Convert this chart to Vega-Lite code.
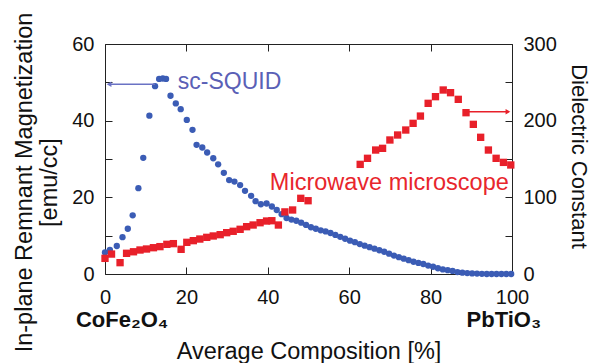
{
  "$schema": "https://vega.github.io/schema/vega-lite/v6.json",
  "width": 407,
  "height": 230,
  "autosize": {"type": "none"},
  "padding": {"left": 105, "top": 44, "right": 78, "bottom": 89},
  "background": "white",
  "config": {
    "font": "Liberation Sans",
    "view": {"stroke": "#222222", "strokeWidth": 1},
    "axis": {
      "domain": false,
      "grid": false,
      "tickSize": 7,
      "offset": -7,
      "labelFlush": false,
      "labelOverlap": false,
      "tickColor": "#222222",
      "tickWidth": 1,
      "labelFont": "Liberation Sans",
      "labelFontSize": 20,
      "labelColor": "#111111",
      "titleFont": "Liberation Sans",
      "titleFontSize": 23,
      "titleFontWeight": "normal",
      "titleColor": "#111111"
    }
  },
  "datasets": {
    "squid": [
      {"comp": 0.0, "mag": 5.6}, {"comp": 1.2, "mag": 6.3}, {"comp": 2.9, "mag": 7.3}, {"comp": 4.3, "mag": 9.6},
      {"comp": 5.6, "mag": 11.8}, {"comp": 6.8, "mag": 15.3}, {"comp": 8.2, "mag": 22.4}, {"comp": 9.4, "mag": 30.3},
      {"comp": 10.9, "mag": 41.3}, {"comp": 12.3, "mag": 49.0}, {"comp": 13.3, "mag": 50.9}, {"comp": 14.2, "mag": 51.0},
      {"comp": 15.0, "mag": 50.9}, {"comp": 16.1, "mag": 46.5}, {"comp": 17.4, "mag": 44.5}, {"comp": 18.6, "mag": 43.0},
      {"comp": 20.1, "mag": 40.2}, {"comp": 21.5, "mag": 37.6}, {"comp": 22.5, "mag": 33.7}, {"comp": 23.9, "mag": 33.0},
      {"comp": 25.1, "mag": 31.7}, {"comp": 26.6, "mag": 30.2}, {"comp": 27.8, "mag": 28.6}, {"comp": 29.2, "mag": 26.4},
      {"comp": 30.5, "mag": 24.5}, {"comp": 31.8, "mag": 24.1}, {"comp": 33.2, "mag": 23.2}, {"comp": 34.4, "mag": 21.7},
      {"comp": 35.9, "mag": 20.4}, {"comp": 37.0, "mag": 19.0}, {"comp": 38.3, "mag": 18.2}, {"comp": 39.7, "mag": 18.4},
      {"comp": 41.0, "mag": 17.6}, {"comp": 42.2, "mag": 16.7}, {"comp": 43.4, "mag": 15.6}, {"comp": 44.6, "mag": 14.6},
      {"comp": 45.8, "mag": 14.2}, {"comp": 47.0, "mag": 13.9}, {"comp": 48.2, "mag": 13.4}, {"comp": 49.4, "mag": 12.8},
      {"comp": 50.6, "mag": 12.2}, {"comp": 51.8, "mag": 11.8}, {"comp": 53.0, "mag": 11.4}, {"comp": 54.2, "mag": 11.1},
      {"comp": 55.4, "mag": 10.7}, {"comp": 56.6, "mag": 10.2}, {"comp": 57.8, "mag": 9.7}, {"comp": 59.0, "mag": 9.2},
      {"comp": 60.2, "mag": 8.7}, {"comp": 61.4, "mag": 8.3}, {"comp": 62.6, "mag": 7.8}, {"comp": 63.8, "mag": 7.4},
      {"comp": 65.0, "mag": 7.0}, {"comp": 66.2, "mag": 6.6}, {"comp": 67.4, "mag": 6.2}, {"comp": 68.6, "mag": 5.8},
      {"comp": 69.8, "mag": 5.3}, {"comp": 71.0, "mag": 4.8}, {"comp": 72.2, "mag": 4.4}, {"comp": 73.4, "mag": 4.0},
      {"comp": 74.6, "mag": 3.6}, {"comp": 75.8, "mag": 3.2}, {"comp": 77.0, "mag": 2.9}, {"comp": 78.2, "mag": 2.6},
      {"comp": 79.4, "mag": 2.2}, {"comp": 80.6, "mag": 1.9}, {"comp": 81.8, "mag": 1.5}, {"comp": 83.0, "mag": 1.2},
      {"comp": 84.2, "mag": 1.0}, {"comp": 85.4, "mag": 0.8}, {"comp": 86.6, "mag": 0.5}, {"comp": 87.8, "mag": 0.35},
      {"comp": 89.0, "mag": 0.25}, {"comp": 90.2, "mag": 0.15}, {"comp": 91.4, "mag": 0.1}, {"comp": 92.6, "mag": 0.05},
      {"comp": 93.8, "mag": 0.0}, {"comp": 95.0, "mag": 0.0}, {"comp": 96.2, "mag": 0.0}, {"comp": 97.4, "mag": 0.0},
      {"comp": 98.6, "mag": 0.0}, {"comp": 99.8, "mag": 0.0}
    ],
    "micro": [
      {"comp": 0.0, "eps": 20.4}, {"comp": 1.6, "eps": 26.0}, {"comp": 3.7, "eps": 14.8}, {"comp": 5.3, "eps": 27.0},
      {"comp": 7.0, "eps": 29.0}, {"comp": 8.6, "eps": 31.3}, {"comp": 10.2, "eps": 32.6}, {"comp": 11.9, "eps": 34.3},
      {"comp": 13.5, "eps": 35.7}, {"comp": 15.2, "eps": 38.7}, {"comp": 16.8, "eps": 39.6}, {"comp": 18.7, "eps": 32.2},
      {"comp": 20.1, "eps": 41.3}, {"comp": 21.7, "eps": 43.5}, {"comp": 23.3, "eps": 45.6}, {"comp": 25.0, "eps": 47.8},
      {"comp": 26.6, "eps": 49.6}, {"comp": 28.3, "eps": 51.3}, {"comp": 29.9, "eps": 53.9}, {"comp": 31.5, "eps": 55.7},
      {"comp": 33.2, "eps": 58.3}, {"comp": 34.8, "eps": 61.7}, {"comp": 36.4, "eps": 63.9}, {"comp": 38.1, "eps": 66.9},
      {"comp": 39.7, "eps": 69.1}, {"comp": 41.0, "eps": 69.5}, {"comp": 42.6, "eps": 63.9}, {"comp": 44.2, "eps": 81.0},
      {"comp": 46.1, "eps": 83.5}, {"comp": 48.1, "eps": 98.7}, {"comp": 49.9, "eps": 95.6},
      {"comp": 62.7, "eps": 143.0}, {"comp": 64.5, "eps": 150.9}, {"comp": 66.5, "eps": 161.7}, {"comp": 68.2, "eps": 163.9},
      {"comp": 70.0, "eps": 174.8}, {"comp": 71.9, "eps": 181.3}, {"comp": 73.9, "eps": 187.8}, {"comp": 75.7, "eps": 196.5},
      {"comp": 77.5, "eps": 206.0}, {"comp": 79.4, "eps": 222.6}, {"comp": 81.2, "eps": 231.3}, {"comp": 83.1, "eps": 240.0},
      {"comp": 84.9, "eps": 236.5}, {"comp": 86.8, "eps": 227.8}, {"comp": 88.7, "eps": 210.4}, {"comp": 90.5, "eps": 195.2},
      {"comp": 92.3, "eps": 178.3}, {"comp": 94.2, "eps": 161.7}, {"comp": 96.1, "eps": 150.9}, {"comp": 97.9, "eps": 145.6},
      {"comp": 99.7, "eps": 142.2}
    ],
    "magNotes": [
      {"comp": 17.9, "mag": 50.0, "label": "sc-SQUID"}
    ],
    "magArrow": [
      {"comp": 1.0, "comp2": 12.3, "mag": 49.5}
    ],
    "compounds": [
      {"comp": 4.2, "mag": -12.0, "label": "CoFe₂O₄"},
      {"comp": 98.0, "mag": -12.0, "label": "PbTiO₃"}
    ],
    "epsNotes": [
      {"comp": 40.5, "eps": 118.7, "label": "Microwave microscope"}
    ],
    "epsArrow": [
      {"comp": 88.9, "comp2": 99.0, "eps": 211.6}
    ]
  },
  "layer": [
    {
      "data": {"name": "squid"},
      "mark": {"type": "circle", "size": 40, "opacity": 1, "color": "#3b5cb5"},
      "encoding": {
        "x": {
          "field": "comp", "type": "quantitative",
          "scale": {"domain": [0, 100], "nice": false},
          "axis": {
            "orient": "bottom", "values": [0, 20, 40, 60, 80, 100],
            "labelPadding": 13, "title": "Average Composition [%]",
            "titleFontSize": 23.5,
            "titleX": 203.5, "titleY": 91, "titleAlign": "center", "titleBaseline": "alphabetic"
          }
        },
        "y": {
          "field": "mag", "type": "quantitative",
          "scale": {"domain": [0, 60], "nice": false},
          "axis": {
            "orient": "left", "values": [0, 10, 20, 30, 40, 50, 60],
            "labelExpr": "datum.value % 20 == 0 ? datum.label : ''",
            "labelPadding": 11,
            "title": ["In-plane Remnant Magnetization", "[emu/cc]"],
            "titleFontSize": 23.5,
            "titleAngle": 270, "titleX": -88, "titleY": 138,
            "titleBaseline": "middle", "titleAlign": "center", "titleLineHeight": 25
          }
        }
      }
    },
    {
      "data": {"name": "micro"},
      "mark": {"type": "square", "size": 54, "opacity": 1, "color": "#e8202a"},
      "encoding": {
        "x": {
          "field": "comp", "type": "quantitative",
          "scale": {"domain": [0, 100], "nice": false},
          "axis": {"orient": "top", "values": [0, 20, 40, 60, 80, 100], "labels": false, "title": null}
        },
        "y": {
          "field": "eps", "type": "quantitative",
          "scale": {"domain": [0, 300], "nice": false},
          "axis": {
            "orient": "right", "values": [0, 50, 100, 150, 200, 250, 300],
            "labelExpr": "datum.value % 100 == 0 ? datum.label : ''",
            "labelPadding": 11,
            "title": "Dielectric Constant",
            "titleFontSize": 22,
            "titleAngle": 90, "titleX": 73, "titleY": 112,
            "titleBaseline": "middle", "titleAlign": "center"
          }
        }
      }
    },
    {
      "data": {"name": "magArrow"},
      "mark": {"type": "rule", "color": "#6a72c4", "strokeWidth": 1.5},
      "encoding": {
        "x": {"field": "comp", "type": "quantitative", "axis": null},
        "x2": {"field": "comp2"},
        "y": {"field": "mag", "type": "quantitative", "scale": {"domain": [0, 60], "nice": false}, "axis": null}
      }
    },
    {
      "data": {"name": "magArrow"},
      "mark": {"type": "point", "shape": "triangle-left", "size": 30, "filled": true, "opacity": 1, "color": "#6a72c4"},
      "encoding": {
        "x": {"field": "comp", "type": "quantitative", "axis": null},
        "y": {"field": "mag", "type": "quantitative", "scale": {"domain": [0, 60], "nice": false}, "axis": null}
      }
    },
    {
      "data": {"name": "magNotes"},
      "mark": {"type": "text", "align": "left", "baseline": "middle", "fontSize": 23, "color": "#5a60b6", "font": "Liberation Sans"},
      "encoding": {
        "x": {"field": "comp", "type": "quantitative", "axis": null},
        "y": {"field": "mag", "type": "quantitative", "scale": {"domain": [0, 60], "nice": false}, "axis": null},
        "text": {"field": "label"}
      }
    },
    {
      "data": {"name": "compounds"},
      "mark": {"type": "text", "align": "center", "baseline": "middle", "fontSize": 22, "fontWeight": "bold", "color": "#111111", "font": "Liberation Sans"},
      "encoding": {
        "x": {"field": "comp", "type": "quantitative", "axis": null},
        "y": {"field": "mag", "type": "quantitative", "scale": {"domain": [0, 60], "nice": false}, "axis": null},
        "text": {"field": "label"}
      }
    },
    {
      "data": {"name": "epsArrow"},
      "mark": {"type": "rule", "color": "#e8202a", "strokeWidth": 1.5},
      "encoding": {
        "x": {"field": "comp", "type": "quantitative", "axis": null},
        "x2": {"field": "comp2"},
        "y": {"field": "eps", "type": "quantitative", "scale": {"domain": [0, 300], "nice": false}, "axis": null}
      }
    },
    {
      "data": {"name": "epsArrow"},
      "mark": {"type": "point", "shape": "triangle-right", "size": 30, "filled": true, "opacity": 1, "color": "#e8202a"},
      "encoding": {
        "x": {"field": "comp2", "type": "quantitative", "axis": null},
        "y": {"field": "eps", "type": "quantitative", "scale": {"domain": [0, 300], "nice": false}, "axis": null}
      }
    },
    {
      "data": {"name": "epsNotes"},
      "mark": {"type": "text", "align": "left", "baseline": "middle", "fontSize": 23.5, "color": "#e8262c", "font": "Liberation Sans"},
      "encoding": {
        "x": {"field": "comp", "type": "quantitative", "axis": null},
        "y": {"field": "eps", "type": "quantitative", "scale": {"domain": [0, 300], "nice": false}, "axis": null},
        "text": {"field": "label"}
      }
    }
  ],
  "resolve": {"scale": {"y": "independent"}, "axis": {"x": "independent"}}
}
